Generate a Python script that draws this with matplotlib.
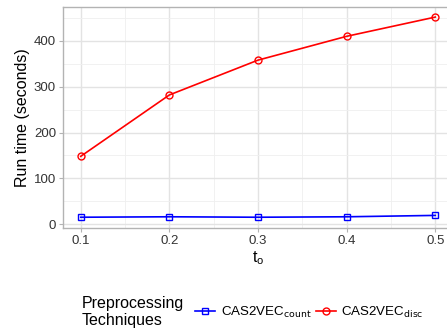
import numpy as np
import matplotlib
matplotlib.use('Agg')
import matplotlib.pyplot as plt
from matplotlib.ticker import MultipleLocator
from matplotlib.offsetbox import HPacker

plt.rcParams['font.family'] = ['Liberation Sans', 'DejaVu Sans']

# data
t_o = [0.1, 0.2, 0.3, 0.4, 0.5]
run_count = [15, 16, 15, 16, 19]
run_disc = [148, 282, 358, 410, 452]
series_labels = [r'CAS2VEC$_{\mathrm{count}}$', r'CAS2VEC$_{\mathrm{disc}}$']
legend_title = 'Preprocessing\nTechniques'

fig = plt.figure(figsize=(4.47, 3.33), dpi=100)
# panel runs slightly past the right edge, as in the reference
ax = fig.add_axes([63/447, 1-228/333, (453-63)/447, (228-7)/333])

ax.plot(t_o, run_count, color='#0000FF', lw=1.2, marker='s', ms=5,
        mfc='none', mew=1.0, label=series_labels[0], zorder=3)
ax.plot(t_o, run_disc, color='#FF0000', lw=1.2, marker='o', ms=5,
        mfc='none', mew=1.0, label=series_labels[1], zorder=3)

ax.set_xlim(0.08, 0.52)
ax.set_ylim(-8.5, 474)
ax.set_xticks(t_o)
ax.set_xticklabels(['0.1', '0.2', '0.3', '0.4', '0.5'])
ax.set_yticks([0, 100, 200, 300, 400])
ax.xaxis.set_minor_locator(MultipleLocator(0.05))
ax.yaxis.set_minor_locator(MultipleLocator(50))

ax.grid(which='major', color='#E3E3E3', lw=1.0)
ax.grid(which='minor', color='#EFEFEF', lw=0.6)
ax.set_axisbelow(True)

for s in ['left', 'bottom', 'top', 'right']:
    ax.spines[s].set_color('#B3B3B3')
    ax.spines[s].set_linewidth(1.0)
ax.tick_params(which='major', length=3, color='#B3B3B3', labelsize=9.5,
               labelcolor='#333333', pad=2)
ax.tick_params(which='minor', length=0)

ax.set_ylabel('Run time (seconds)', fontsize=11.5, labelpad=3)
ax.set_xlabel(r'$\mathregular{t_o}$', fontsize=11.5, labelpad=2)

leg = fig.legend(loc='center left', bbox_to_anchor=(82/447, 1-312/333),
                 ncol=2, frameon=False, fontsize=9.6, title=legend_title,
                 title_fontsize=11.5, handlelength=1.5, handletextpad=0.4,
                 columnspacing=0.3, borderaxespad=0, borderpad=0)
leg._legend_box.align = 'left'
# put title to the left of entries, like ggplot's bottom legend
title_box = leg._legend_title_box
entries = leg._legend_handle_box
leg._legend_box._children = [HPacker(pad=0, sep=8, children=[title_box, entries], align='center')]

fig.savefig('out.png', dpi=100)
